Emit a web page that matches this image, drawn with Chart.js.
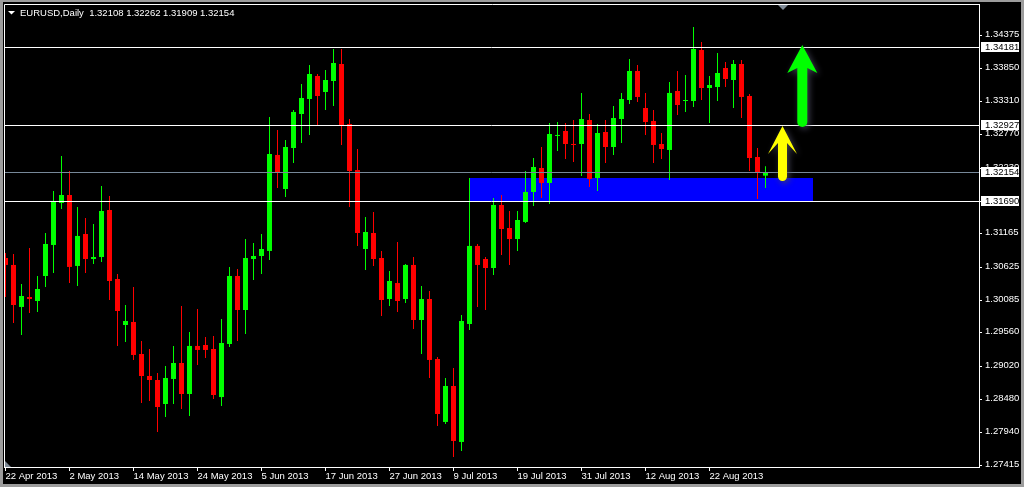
<!DOCTYPE html>
<html>
<head>
<meta charset="utf-8">
<title>EURUSD,Daily</title>
<script src="https://cdn.jsdelivr.net/npm/chart.js@4.4.1/dist/chart.umd.min.js"></script>
<style>
  html, body { margin: 0; padding: 0; background: #000; }
  canvas { display: block; }
</style>
</head>
<body>
<canvas id="chart" width="1024" height="487"></canvas>
<script>
const symbol = 'EURUSD,Daily';

// daily candles, 22 Apr 2013 .. 2 Sep 2013
const openPrices = [
  1.30773, 1.30660, 1.29979, 1.30141, 1.30076, 1.30481, 1.30984, 1.31664, 1.31794, 1.30644,
  1.31162, 1.30757, 1.30789, 1.31551, 1.30432, 1.29687, 1.29736, 1.29217, 1.28860, 1.28795,
  1.28406, 1.28812, 1.29071, 1.28568, 1.29347, 1.29363, 1.29298, 1.28519, 1.29379, 1.30481,
  1.29930, 1.30757, 1.30805, 1.30887, 1.32443, 1.31891, 1.32556, 1.33107, 1.33350, 1.33723,
  1.33464, 1.33642, 1.33917, 1.32945, 1.32199, 1.30919, 1.31178, 1.30773, 1.30108, 1.30367,
  1.30108, 1.30660, 1.29768, 1.30108, 1.29136, 1.28115, 1.28698, 1.27791, 1.29703, 1.30968,
  1.30757, 1.30611, 1.31632, 1.31259, 1.31081, 1.31357, 1.31843, 1.32232, 1.31989, 1.32751,
  1.32831, 1.32621, 1.32621, 1.33010, 1.32069, 1.32815, 1.32572, 1.33026, 1.33334, 1.33804,
  1.33204, 1.32994, 1.32621, 1.32524, 1.33480, 1.33318, 1.33318, 1.34144, 1.33528, 1.33545,
  1.33853, 1.33658, 1.33917, 1.33399, 1.32410, 1.32108
];
const highPrices = [
  1.30854, 1.30838, 1.30351, 1.30935, 1.30481, 1.31178, 1.31859, 1.32427, 1.32183, 1.31600,
  1.31421, 1.31324, 1.31940, 1.31778, 1.30513, 1.30011, 1.30303, 1.29428, 1.29298, 1.28909,
  1.29023, 1.29347, 1.29995, 1.29574, 1.29946, 1.29493, 1.29509, 1.29784, 1.30627, 1.30595,
  1.31081, 1.31016, 1.31162, 1.33059, 1.32848, 1.32686, 1.33172, 1.33593, 1.33901, 1.33755,
  1.33820, 1.34161, 1.34161, 1.33026, 1.32540, 1.31437, 1.31519, 1.30887, 1.30562, 1.31033,
  1.30676, 1.30789, 1.30319, 1.30238, 1.29169, 1.28828, 1.28990, 1.29849, 1.32069, 1.31000,
  1.30789, 1.31746, 1.31794, 1.31535, 1.31535, 1.32183, 1.32394, 1.32572, 1.32961, 1.32977,
  1.32961, 1.33010, 1.33448, 1.33107, 1.32945, 1.33010, 1.33237, 1.33448, 1.33999, 1.33901,
  1.33448, 1.33172, 1.32799, 1.33626, 1.33804, 1.33739, 1.34517, 1.34274, 1.33723, 1.34096,
  1.33950, 1.33982, 1.33982, 1.33431, 1.32556, 1.32262
];
const lowPrices = [
  1.30141, 1.29719, 1.29525, 1.29881, 1.29898, 1.30303, 1.30529, 1.31567, 1.30367, 1.30319,
  1.30529, 1.30676, 1.30709, 1.30092, 1.29347, 1.29412, 1.29120, 1.28422, 1.28455, 1.27953,
  1.28195, 1.28406, 1.28325, 1.28212, 1.29039, 1.29152, 1.28487, 1.28374, 1.29331, 1.29428,
  1.29541, 1.30416, 1.30513, 1.30741, 1.31908, 1.31762, 1.32313, 1.32637, 1.32767, 1.32929,
  1.33172, 1.33237, 1.32605, 1.31600, 1.30968, 1.30578, 1.30644, 1.29833, 1.29995, 1.29898,
  1.30043, 1.29622, 1.29217, 1.28828, 1.28050, 1.28082, 1.27548, 1.27645, 1.29606, 1.29979,
  1.29930, 1.30497, 1.30822, 1.30660, 1.30887, 1.31340, 1.31616, 1.31746, 1.31648, 1.32507,
  1.32378, 1.32329, 1.32102, 1.31924, 1.31859, 1.32313, 1.32442, 1.32637, 1.33269, 1.33302,
  1.32767, 1.32313, 1.32378, 1.32037, 1.33091, 1.33140, 1.33221, 1.33334, 1.32961, 1.33318,
  1.33545, 1.33204, 1.33042, 1.32183, 1.31729, 1.31909
];
const closePrices = [
  1.30660, 1.30011, 1.30157, 1.30108, 1.30270, 1.31000, 1.31681, 1.31794, 1.30628, 1.31130,
  1.30757, 1.30789, 1.31535, 1.30400, 1.29914, 1.29752, 1.29201, 1.28860, 1.28795, 1.28358,
  1.28828, 1.29071, 1.28568, 1.29347, 1.29282, 1.29282, 1.28552, 1.29395, 1.30481, 1.29930,
  1.30773, 1.30805, 1.30919, 1.32459, 1.32151, 1.32572, 1.33140, 1.33366, 1.33755, 1.33399,
  1.33658, 1.33934, 1.32929, 1.32183, 1.31178, 1.31194, 1.30757, 1.30092, 1.30400, 1.30076,
  1.30660, 1.29768, 1.30108, 1.29120, 1.28244, 1.28698, 1.27807, 1.29752, 1.30968, 1.30660,
  1.30611, 1.31632, 1.31243, 1.31081, 1.31389, 1.31843, 1.32248, 1.31989, 1.32783, 1.32767,
  1.32621, 1.32605, 1.33026, 1.32053, 1.32799, 1.32572, 1.33042, 1.33350, 1.33804, 1.33383,
  1.32977, 1.32605, 1.32540, 1.33448, 1.33253, 1.33334, 1.34161, 1.33528, 1.33577, 1.33772,
  1.33674, 1.33917, 1.33383, 1.32394, 1.32167, 1.32154
];

const dateTickBars = [0, 8, 16, 24, 32, 40, 48, 56, 64, 72, 80, 88];
const dateLabels = ['22 Apr 2013', '2 May 2013', '14 May 2013', '24 May 2013', '5 Jun 2013', '17 Jun 2013',
  '27 Jun 2013', '9 Jul 2013', '19 Jul 2013', '31 Jul 2013', '12 Aug 2013', '22 Aug 2013'];
const priceTicks = [1.34375, 1.33850, 1.33310, 1.32770, 1.32230, 1.31690, 1.31165,
  1.30625, 1.30085, 1.29560, 1.29020, 1.28480, 1.27940, 1.27415];

// drawn objects
const levelLines = [1.34181, 1.32927, 1.31690];
const zoneBars = [58, 101];
const zonePrices = [1.31680, 1.32070];
const arrowBars = [97.125, 99.6];
const arrowFrom = [1.32021, 1.32896];
const arrowTo = [1.32913, 1.34226];
const arrowColors = ['#ffff00', '#00ff00'];

const labelFont = { family: 'Liberation Sans', size: 9.5 };
const candleIndex = openPrices.map((_, i) => i);
const candleColors = candleIndex.map(i => closePrices[i] >= openPrices[i] ? '#00ff00' : '#ff0000');
const lastBar = closePrices.length - 1;

function drawArrow(ctx, cx, tipY, baseY, color, shaft, barb, headLen, neck) {
  ctx.save();
  ctx.fillStyle = color;
  ctx.shadowColor = 'rgba(70, 70, 90, 0.9)';
  ctx.shadowBlur = 6;
  ctx.shadowOffsetX = 2;
  ctx.shadowOffsetY = 2;
  ctx.beginPath();
  ctx.moveTo(cx, tipY);
  ctx.lineTo(cx + barb, tipY + headLen);
  ctx.lineTo(cx + shaft, tipY + neck);
  ctx.lineTo(cx + shaft, baseY - shaft);
  ctx.arc(cx, baseY - shaft, shaft, 0, Math.PI);
  ctx.lineTo(cx - shaft, tipY + neck);
  ctx.lineTo(cx - barb, tipY + headLen);
  ctx.closePath();
  ctx.fill();
  ctx.restore();
}

function priceLabel(ctx, row, text) {
  ctx.fillStyle = '#ffffff';
  ctx.fillRect(981, row - 5, 38, 10);
  ctx.fillStyle = '#000000';
  ctx.textBaseline = 'middle';
  ctx.textAlign = 'left';
  ctx.fillText(text, 985, row + 0.5);
}

const mt4Plugin = {
  id: 'mt4',
  beforeDatasetsDraw(chart) {
    const { ctx, chartArea, scales: { x, y } } = chart;
    ctx.save();
    ctx.beginPath();
    ctx.rect(chartArea.left, chartArea.top, chartArea.width, chartArea.height);
    ctx.clip();
    // support zone sits behind the candles
    const x0 = Math.floor(x.getPixelForValue(zoneBars[0]));
    const x1 = Math.floor(x.getPixelForValue(zoneBars[1]));
    const y0 = Math.round(y.getPixelForValue(zonePrices[1]));
    const y1 = Math.round(y.getPixelForValue(zonePrices[0]));
    ctx.fillStyle = '#0000ff';
    ctx.fillRect(x0, y0, x1 - x0, y1 - y0);
    ctx.restore();
  },
  afterDatasetsDraw(chart) {
    const { ctx, chartArea, scales: { x, y } } = chart;
    ctx.save();
    ctx.beginPath();
    ctx.rect(chartArea.left, chartArea.top, chartArea.width, chartArea.height);
    ctx.clip();
    ctx.lineWidth = 1;
    levelLines.forEach(p => {
      const row = Math.floor(y.getPixelForValue(p)) + 0.5;
      ctx.strokeStyle = '#ffffff';
      ctx.beginPath();
      ctx.moveTo(chartArea.left, row);
      ctx.lineTo(chartArea.right, row);
      ctx.stroke();
    });
    // bid line
    const bidRow = Math.floor(y.getPixelForValue(closePrices[lastBar])) + 0.5;
    ctx.strokeStyle = '#778899';
    ctx.beginPath();
    ctx.moveTo(chartArea.left, bidRow);
    ctx.lineTo(chartArea.right, bidRow);
    ctx.stroke();

    arrowBars.forEach((b, i) => {
      const cx = x.getPixelForValue(b);
      const tip = y.getPixelForValue(arrowTo[i]);
      const base = y.getPixelForValue(arrowFrom[i]);
      if (i === 0) {
        drawArrow(ctx, cx, tip, base, arrowColors[i], 4.5, 14.5, 28, 17);
      } else {
        drawArrow(ctx, cx, tip, base, arrowColors[i], 5, 15, 28, 23);
      }
    });
    ctx.restore();
  },
  afterDraw(chart) {
    const { ctx, chartArea, scales: { y } } = chart;
    const w = chart.width, h = chart.height;
    ctx.save();
    // plot border (top and left; bottom/right come from the axes)
    ctx.strokeStyle = '#ffffff';
    ctx.lineWidth = 1;
    ctx.beginPath();
    ctx.moveTo(chartArea.left + 0.5, chartArea.bottom);
    ctx.lineTo(chartArea.left + 0.5, chartArea.top + 0.5);
    ctx.lineTo(chartArea.right + 1, chartArea.top + 0.5);
    ctx.stroke();

    // highlighted prices on the axis
    ctx.font = '9.5px "Liberation Sans"';
    levelLines.concat([closePrices[lastBar]]).forEach(p => {
      priceLabel(ctx, Math.floor(y.getPixelForValue(p)), p.toFixed(5));
    });

    // title
    ctx.fillStyle = '#ffffff';
    ctx.beginPath();
    ctx.moveTo(8, 11);
    ctx.lineTo(15, 11);
    ctx.lineTo(11.5, 14.5);
    ctx.closePath();
    ctx.fill();
    ctx.textBaseline = 'middle';
    ctx.textAlign = 'left';
    const ohlc = [openPrices[lastBar], highPrices[lastBar], lowPrices[lastBar], closePrices[lastBar]];
    ctx.fillText(symbol + '  ' + ohlc.map(v => v.toFixed(5)).join(' '), 20, 13);

    // chart shift marker and scroll marker
    ctx.fillStyle = '#7f8a96';
    ctx.beginPath();
    ctx.moveTo(778, 5);
    ctx.lineTo(788, 5);
    ctx.lineTo(783, 10);
    ctx.closePath();
    ctx.fill();
    ctx.beginPath();
    ctx.moveTo(5, 461);
    ctx.lineTo(5, 467);
    ctx.lineTo(11, 467);
    ctx.closePath();
    ctx.fill();

    // window frame
    ctx.fillStyle = '#9c9c9c';
    ctx.fillRect(0, 0, w, 2);
    ctx.fillRect(0, h - 3, w, 3);
    ctx.fillRect(0, 0, 3, h);
    ctx.fillRect(w - 3, 0, 3, h);
    ctx.restore();
  }
};

const ctx = document.getElementById('chart').getContext('2d');

new Chart(ctx, {
  type: 'bar',
  data: {
    datasets: [
      {
        label: 'wick',
        data: candleIndex.map(i => ({ x: i, y: [lowPrices[i], highPrices[i]] })),
        backgroundColor: candleColors,
        borderWidth: 0,
        barThickness: 1,
        maxBarThickness: 1,
        inflateAmount: 0,
        grouped: false
      },
      {
        label: 'body',
        data: candleIndex.map(i => ({ x: i, y: [openPrices[i], closePrices[i]] })),
        backgroundColor: candleColors,
        borderWidth: 0,
        barThickness: 5,
        maxBarThickness: 5,
        minBarLength: 1,
        inflateAmount: 0,
        grouped: false
      }
    ]
  },
  options: {
    responsive: false,
    animation: false,
    events: [],
    layout: { padding: { left: 4, top: 4, right: 0, bottom: 0 }, autoPadding: false },
    plugins: {
      legend: { display: false },
      tooltip: { enabled: false }
    },
    scales: {
      x: {
        type: 'linear',
        position: 'bottom',
        offset: false,
        bounds: 'data',
        min: -0.1875,
        max: 121.6875,
        afterFit: scale => {
          scale.height = 20;
          scale.paddingLeft = 0;
          scale.paddingRight = 0;
        },
        afterBuildTicks: scale => { scale.ticks = dateTickBars.map(v => ({ value: v })); },
        grid: { display: true, drawOnChartArea: false, drawTicks: true, tickLength: 4, color: '#ffffff', offset: false },
        border: { display: true, color: '#ffffff', width: 1 },
        ticks: {
          autoSkip: false,
          maxRotation: 0,
          align: 'start',
          padding: 0,
          color: '#ffffff',
          font: labelFont,
          callback: (value, index) => dateLabels[index]
        }
      },
      y: {
        type: 'linear',
        position: 'right',
        bounds: 'data',
        min: 1.27385,
        max: 1.34890,
        afterFit: scale => {
          scale.width = 45;
          scale.paddingTop = 0;
          scale.paddingBottom = 0;
        },
        afterBuildTicks: scale => { scale.ticks = priceTicks.map(v => ({ value: v })); },
        grid: { display: true, drawOnChartArea: false, drawTicks: true, tickLength: 3, color: '#ffffff' },
        border: { display: true, color: '#ffffff', width: 1 },
        ticks: {
          autoSkip: false,
          padding: 3,
          labelOffset: -1,
          color: '#ffffff',
          font: labelFont,
          callback: value => value.toFixed(5)
        }
      }
    }
  },
  plugins: [mt4Plugin]
});
</script>
</body>
</html>
